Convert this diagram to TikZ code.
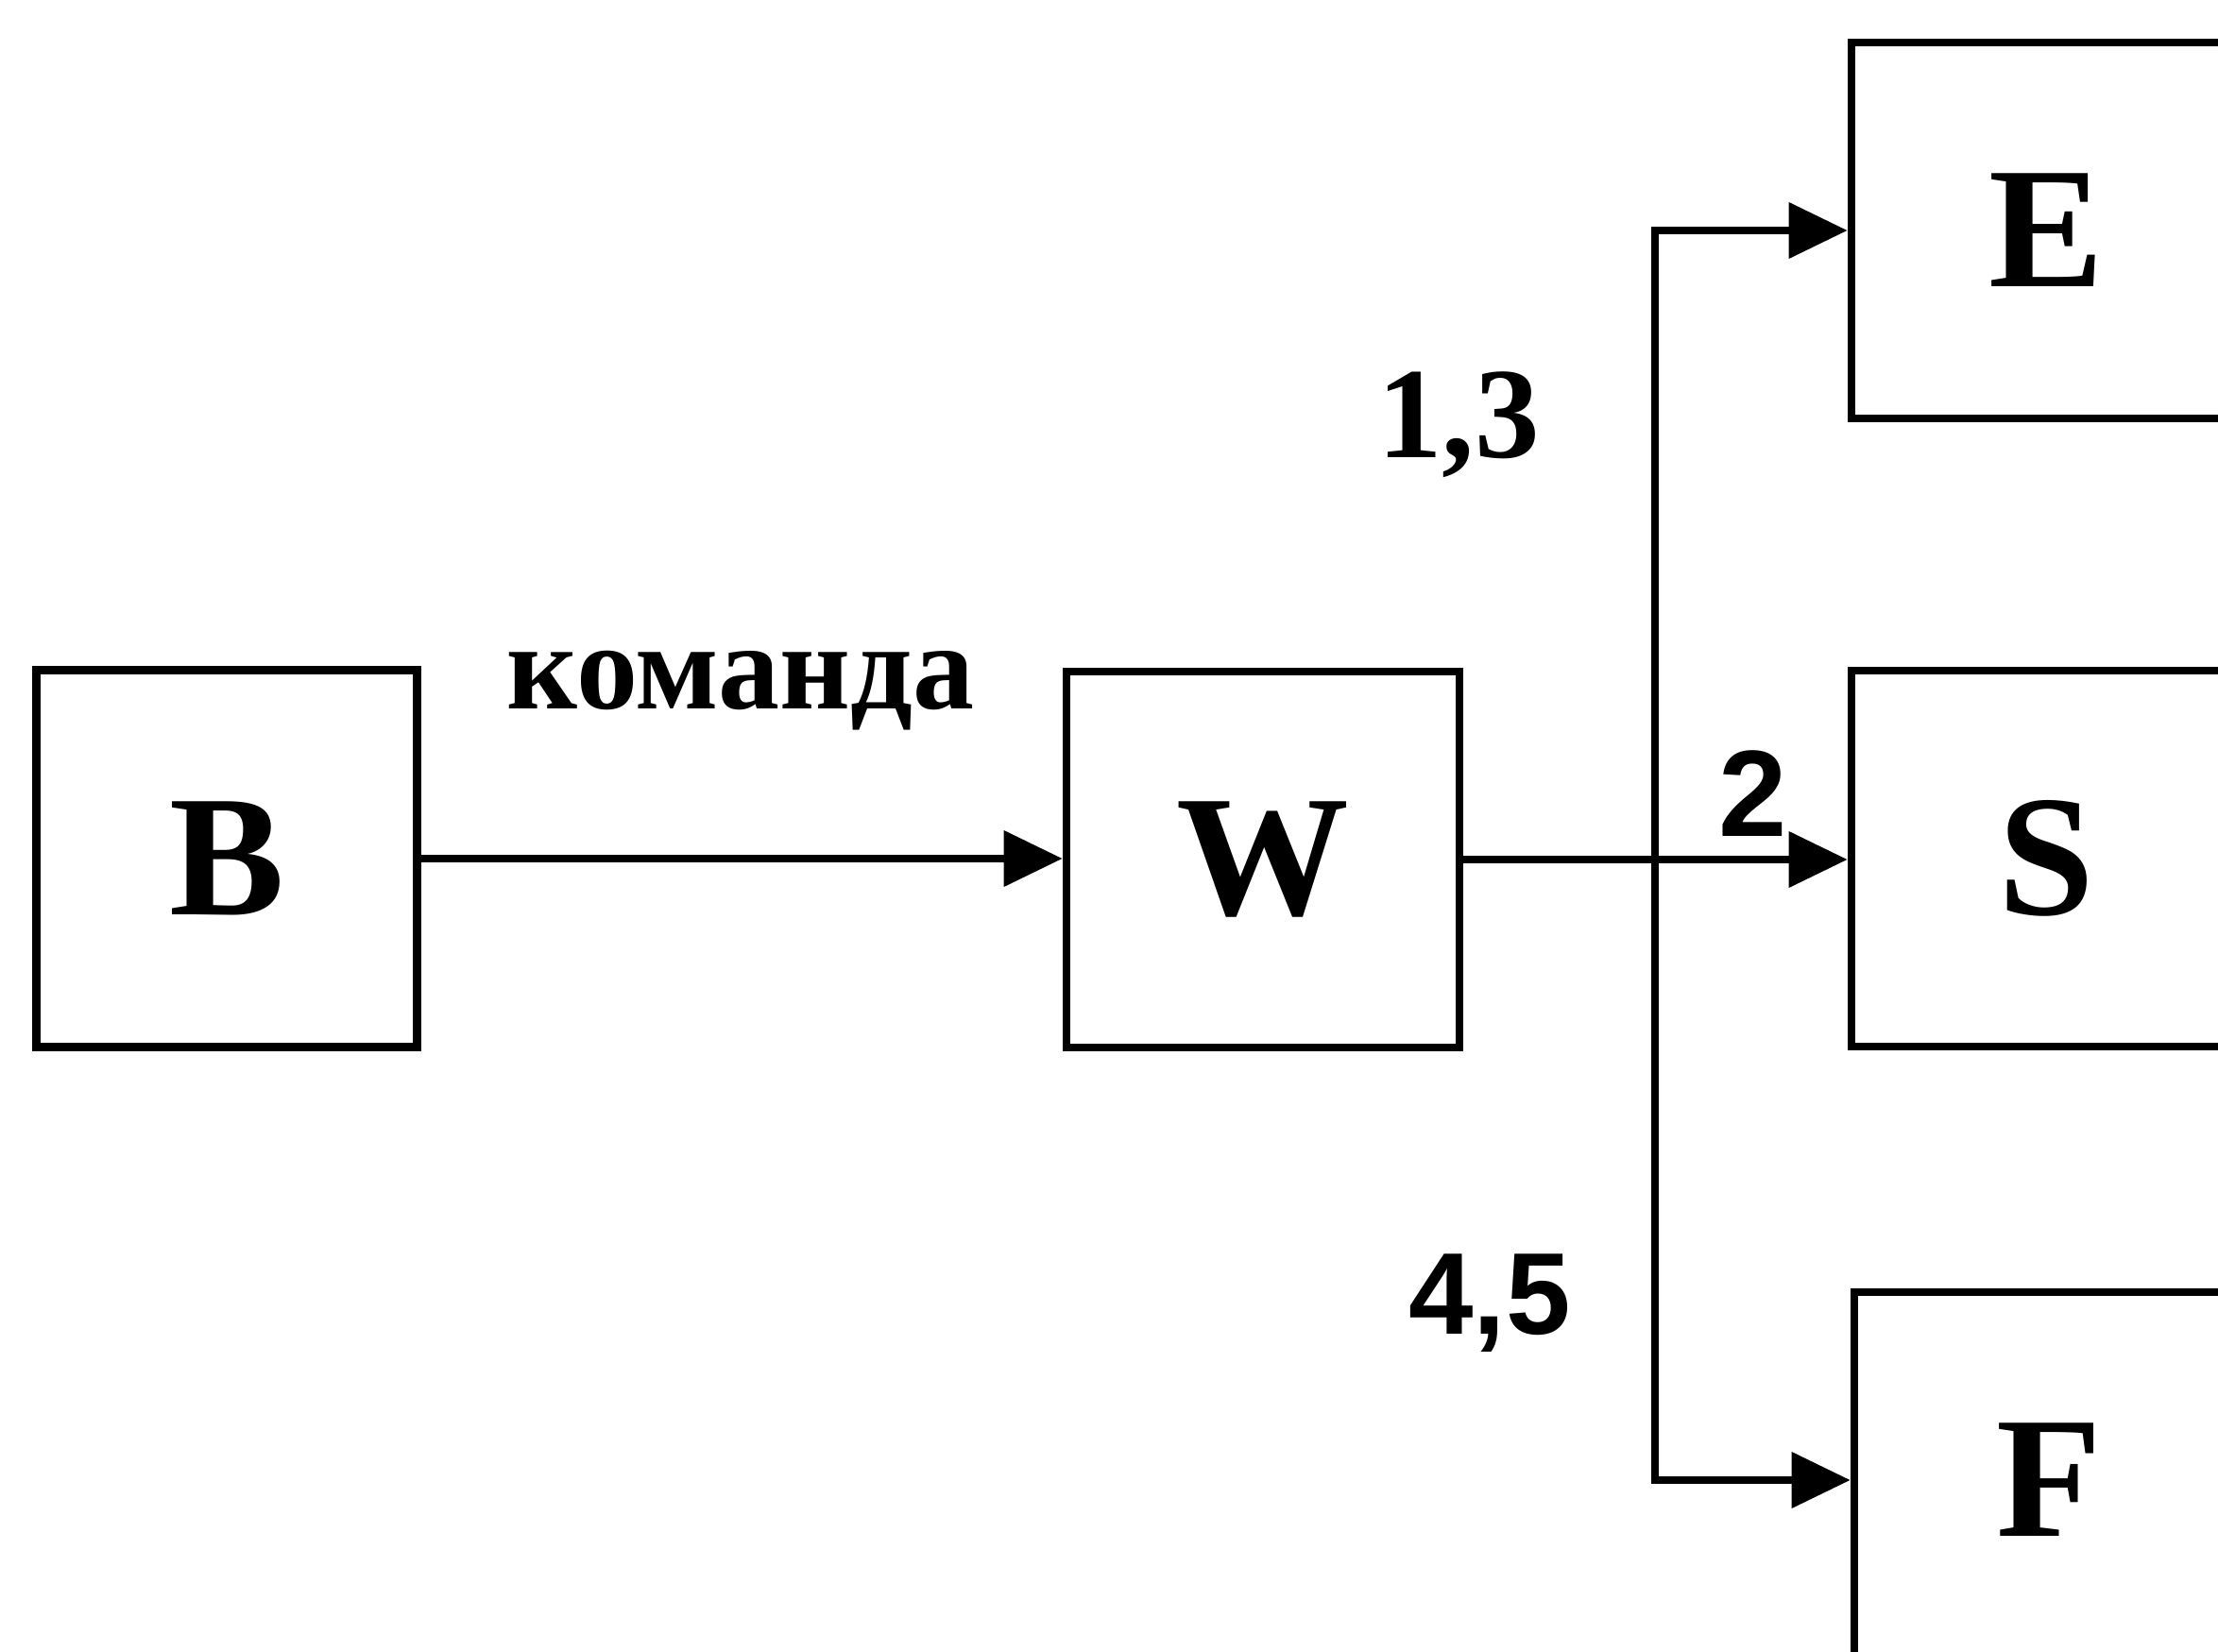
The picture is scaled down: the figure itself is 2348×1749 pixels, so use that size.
\documentclass[tikz,border=0pt]{standalone}
\usepackage{fontspec}
\setmainfont{Liberation Serif}
\newfontfamily\sansfont{Liberation Sans}
\usetikzlibrary{arrows.meta}
\tikzset{
  blockbox/.style={draw, line width=0.85mm, inner sep=0pt, minimum width=4.12cm, minimum height=3.98cm,
    font=\bfseries\fontsize{52}{60}\selectfont},
  conn/.style={line width=0.75mm},
  arr/.style={conn, -{Triangle[length=6.2mm, width=5.8mm]}},
  lbl/.style={inner sep=0pt, anchor=base, font=\bfseries\fontsize{39}{44}\selectfont},
}
\begin{document}
\begin{tikzpicture}[x=0.01cm, y=-0.01cm]
\useasboundingbox (0,0) rectangle (2348,1749);
\clip (0,0) rectangle (2348,1749);
\node[blockbox, minimum width=4.03cm, minimum height=3.99cm] (B) at (240,909) {B};
\node[blockbox, minimum width=4.16cm] (W) at (1337,910) {W};
\node[blockbox] (E) at (2166,244) {E};
\node[blockbox] (S) at (2166,909) {S};
\node[blockbox] (F) at (2169,1567) {F};
\coordinate (J) at (1752,910);
\draw[arr] (B.east) -- (B.east -| W.west);
\draw[conn] (W.east) -- (J);
\draw[arr] (J) -- (J -| S.west);
\draw[arr] (J) |- (E.west);
\draw[arr] (J) |- (F.west);
\node[lbl, font=\bfseries\fontsize{37}{44}\selectfont] (cmd) at (784,750) {команда};
\node[lbl] (l13) at (1544,485) {1,3};
\node[lbl, font=\sansfont\bfseries\fontsize{37}{44}\selectfont] (l2) at (1856,885) {2};
\node[lbl, font=\sansfont\bfseries\fontsize{35}{44}\selectfont] (l45) at (1577,1412) {4,5};
\end{tikzpicture}
\end{document}
